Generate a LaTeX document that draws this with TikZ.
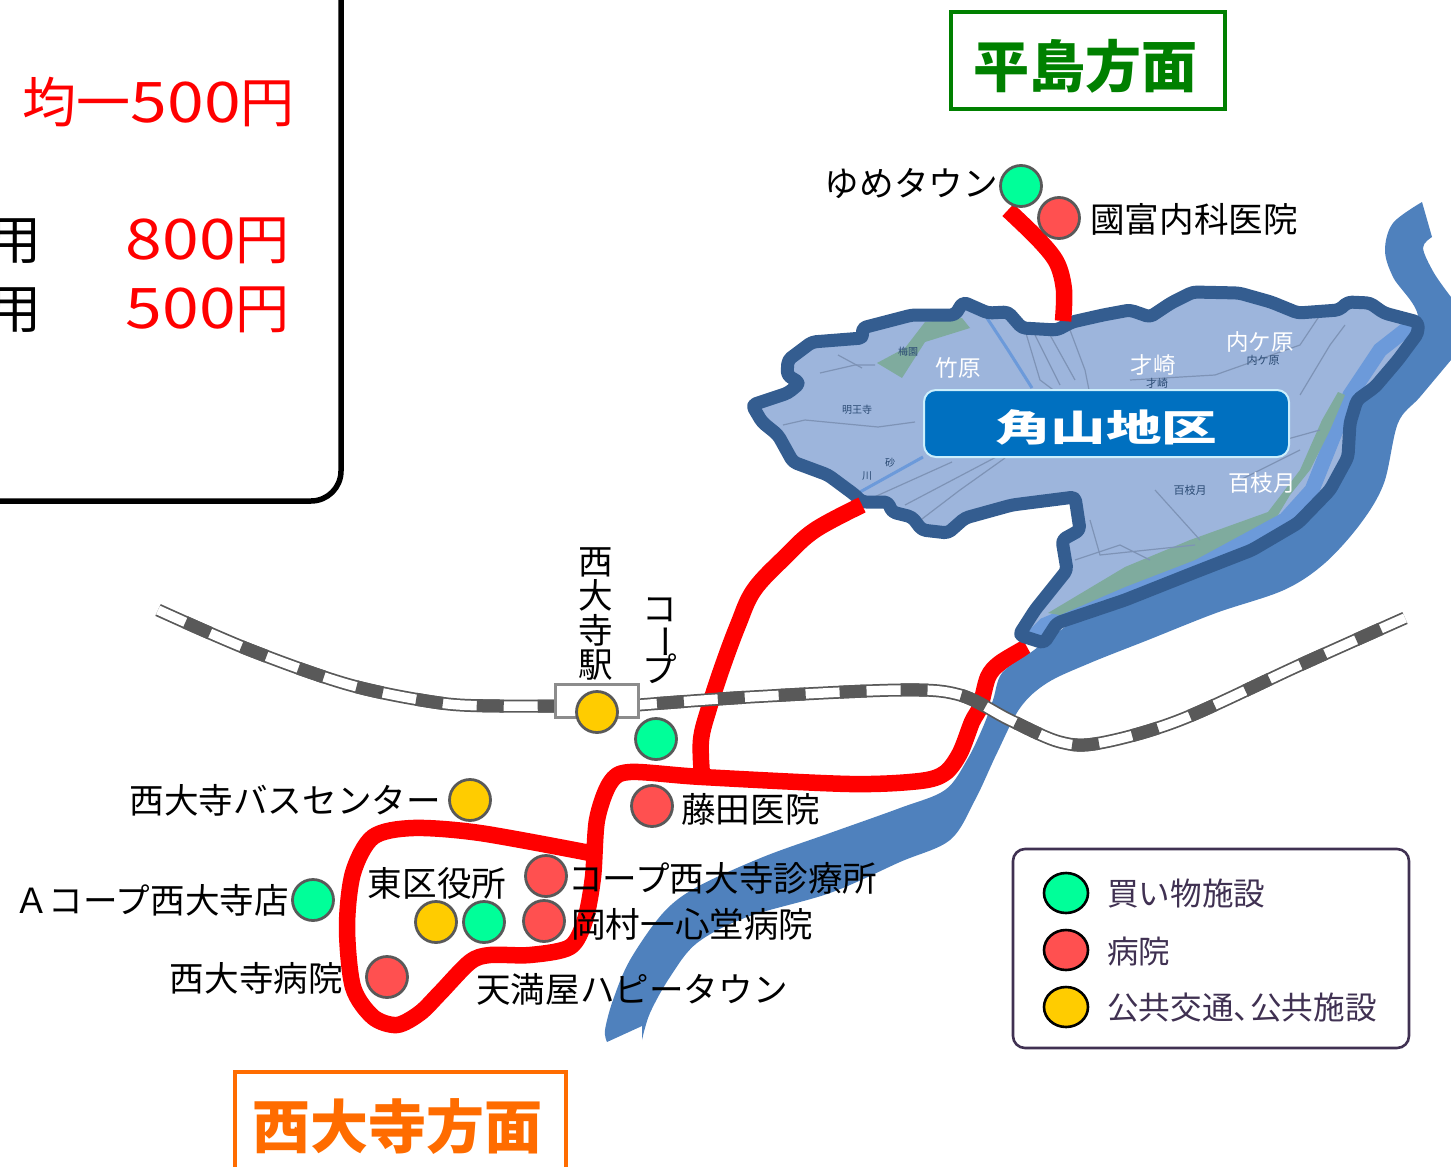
\documentclass[tikz,border=0pt]{standalone}
\usepackage{fontspec}
\usepackage{graphicx}
\setmainfont{Noto Sans CJK JP}
\newfontfamily\widedigits[FakeStretch=1.18]{Noto Sans CJK JP}
\usetikzlibrary{calc,shapes.geometric}
\newcommand{\fsz}[1]{\fontsize{#1}{#1}\selectfont}
\definecolor{river}{HTML}{4F81BD}
\definecolor{mapfill}{HTML}{9DB5DC}
\definecolor{mapedge}{HTML}{345D90}
\definecolor{strip}{HTML}{6C9ADA}
\definecolor{parkgreen}{HTML}{7FAB9E}
\definecolor{road}{HTML}{7E93B6}
\definecolor{dotgreen}{HTML}{00FF99}
\definecolor{dotred}{HTML}{FF5050}
\definecolor{dotyellow}{HTML}{FFCC00}
\definecolor{dotline}{HTML}{595959}
\definecolor{legendtext}{HTML}{403152}
\definecolor{titleblue}{HTML}{0070C0}
\tikzset{
  dot/.style={circle,draw=dotline,line width=2.8pt,minimum size=41pt,inner sep=0pt},
  legdot/.style={ellipse,draw=black,line width=2.6pt,minimum width=44pt,minimum height=40pt,inner sep=0pt},
  lbl/.style={inner sep=0pt,font=\fsz{34.6},text=black},
  legtxt/.style={inner sep=0pt,anchor=west,font=\fsz{31.6},text=legendtext},
  price/.style={inner sep=0pt,text=red,font=\fsz{54}},
  route/.style={draw=red,line width=16.5pt,line join=round},
  roadline/.style={draw=road,line width=1.2pt},
  maplbl/.style={inner sep=0pt,text=white,font=\fsz{22.5}},
  mapsmall/.style={inner sep=0pt,text=mapedge!80!black,font=\fsz{10}},
  railbase/.style={draw=dotline,line width=13pt},
  railwhite/.style={draw=white,line width=9.5pt},
  raildash/.style={draw=dotline,line width=13pt,dash pattern=on 27pt off 34pt},
}
\begin{document}
\begin{tikzpicture}[x=1pt,y=-1pt]
\useasboundingbox (0,0) rectangle (1451,1167);
\clip (0,0) rectangle (1451,1167);
\def\mapoutline{(1072,322) -- (1103,315) -- (1130,310) -- (1150,317) -- (1171,303) -- (1193,292) -- (1239,293) -- (1271,302) -- (1298,313) -- (1339,310) -- (1348,302) -- (1370,303) -- (1384,313) -- (1418,322) -- (1418,333) -- (1398,360) -- (1375,387) -- (1357,400) -- (1350,423) -- (1348,457) -- (1330,490) -- (1298,523) -- (1252,550) -- (1193,573) -- (1125,600) -- (1057,623) -- (1044,643) -- (1019,635) -- (1035,610) -- (1067,570) -- (1062,540) -- (1080,530) -- (1075,497) -- (1012,505) -- (965,518) -- (948,533) -- (922,530) -- (912,517) -- (892,512) -- (888,502) -- (862,502) -- (855,495) -- (828,475) -- (793,462) -- (778,435) -- (762,422) -- (752,405) -- (788,393) -- (800,383) -- (787,375) -- (788,360) -- (812,342) -- (863,338) -- (862,328) -- (912,315) -- (955,315) -- (963,302) -- (988,313) -- (1008,312) -- (1022,328) -- (1057,330) -- cycle}
% fare panel
\draw[black,line width=5.5pt,rounded corners=30pt] (-20,501) -- (341,501) -- (341,-20);
\node[price,anchor=east] (fareflat) at (295,102) {均一{\widedigits\fsz{56}500}円};
\node[price,anchor=east] (fareA) at (290,241) {{\widedigits\fsz{56}800}円};
\node[price,anchor=east] (fareB) at (290,310) {{\widedigits\fsz{56}500}円};
\node[inner sep=0pt,anchor=east,font=\fsz{53}] (useA) at (42,241) {用};
\node[inner sep=0pt,anchor=east,font=\fsz{53}] (useB) at (42,310) {用};
% main route, passes beneath the river edge
\draw[route] plot[smooth,tension=0.5] coordinates {(1027,647) (1000,663) (988,677) (980,707) (972,722) (960,753) (945,773) (920,781) (850,784) (702,777) (630,772) (610,783) (597,820) (593,877) (585,920) (570,947) (530,955) (490,955) (470,962) (440,993) (420,1013) (397,1025) (373,1017) (353,987) (347,927) (353,873) (373,837) (413,828) (480,833) (590,853)};
% river
\fill[river] plot[smooth,tension=0.55] coordinates {(1422,202) (1393,223) (1385,250) (1393,277) (1418,320) (1380,370) (1330,460) (1280,510) (1180,560) (1090,610) (1030,653) (1002,673) (993,700) (983,727) (967,760) (945,790) (900,808) (830,833) (763,857) (697,887) (663,913) (630,960) (613,1000) (605,1030) (607,1042)}
  -- (642,1026) -- plot[smooth,tension=0.55] coordinates {(642,1040) (650,1013) (670,977) (697,943) (747,917) (830,893) (900,862) (950,840) (975,800) (997,753) (1020,708) (1047,683) (1090,663) (1148,640) (1216,613) (1284,590) (1325,563) (1361,523) (1384,483) (1398,423) (1420,397) (1451,360)}
  -- (1460,360) -- (1460,297) -- plot[smooth,tension=0.55] coordinates {(1451,297) (1434,273) (1423,248) (1432,237)} -- cycle;
% district map
\fill[mapfill] \mapoutline;
\begin{scope}
\clip \mapoutline;
\draw[strip,line width=15pt] (1030,640) -- (1045,625) -- (1140,585) -- (1210,555) -- (1285,520) -- (1312,490) -- (1332,440) -- (1350,395) -- (1380,350) -- (1412,325);
\fill[parkgreen] (1048,613) -- (1125,567) -- (1190,540) -- (1268,512) -- (1300,470) -- (1322,420) -- (1338,392) -- (1345,395) -- (1330,430) -- (1310,470) -- (1290,495) -- (1278,515) -- (1195,560) -- (1125,587) -- (1060,615) -- cycle;
\fill[parkgreen] (925,322) -- (962,318) -- (970,328) -- (925,342) -- (902,378) -- (877,363) -- (905,348) -- cycle;
\draw[strip,line width=3pt] (985,315) -- (1008,350) -- (1032,388);
\draw[strip,line width=3pt] (860,492) -- (923,457);
\draw[roadline] (1025,330) -- (1040,380) -- (1060,395);
\draw[roadline] (1035,335) -- (1060,385);
\draw[roadline] (1070,330) -- (1085,370) -- (1090,395);
\draw[roadline] (1050,335) -- (1075,380);
\draw[roadline] (918,522) -- (960,490) -- (1005,458);
\draw[roadline] (872,498) -- (952,462);
\draw[roadline] (905,505) -- (1000,455);
\draw[roadline] (783,425) -- (805,420) -- (878,427) -- (915,422);
\draw[roadline] (820,373) -- (855,365) -- (875,365);
\draw[roadline] (838,355) -- (862,368);
\draw[roadline] (1130,380) -- (1215,375) -- (1300,345) -- (1320,315);
\draw[roadline] (1300,395) -- (1330,345) -- (1345,325);
\draw[roadline] (1230,455) -- (1320,430);
\draw[roadline] (1155,490) -- (1200,540);
\draw[roadline] (1090,520) -- (1100,555) -- (1195,545);
\draw[roadline] (1075,560) -- (1120,545) -- (1150,560);
\draw[roadline] (1240,480) -- (1300,450);
\end{scope}
\draw[mapedge,line width=13pt,line join=round,rounded corners=4pt] \mapoutline;
% routes that end on the map
\draw[route] plot[smooth,tension=0.6] coordinates {(862,505) (815,530) (785,557) (754,590) (738,625) (722,668) (709,708) (701,740) (702,775)};
\draw[route] plot[smooth,tension=0.55] coordinates {(1008,210) (1039,240) (1057,263) (1064,290) (1063,321)};
% railway
\draw[railbase] plot[smooth,tension=0.55] coordinates {(158,610) (250,650) (350,685) (440,703) (500,706) (556,706)};
\draw[railwhite] plot[smooth,tension=0.55] coordinates {(158,610) (250,650) (350,685) (440,703) (500,706) (556,706)};
\draw[raildash,dash phase=31pt] plot[smooth,tension=0.55] coordinates {(158,610) (250,650) (350,685) (440,703) (500,706) (556,706)};
\draw[railbase] plot[smooth,tension=0.55] coordinates {(638,705) (750,697) (900,690) (960,695) (1010,720) (1060,742) (1100,743) (1180,720) (1300,665) (1405,618)};
\draw[railwhite] plot[smooth,tension=0.55] coordinates {(638,705) (750,697) (900,690) (960,695) (1010,720) (1060,742) (1100,743) (1180,720) (1300,665) (1405,618)};
\draw[raildash,dash phase=42pt] plot[smooth,tension=0.55] coordinates {(638,705) (750,697) (900,690) (960,695) (1010,720) (1060,742) (1100,743) (1180,720) (1300,665) (1405,618)};
\node[draw=gray!90,fill=white,line width=2.5pt,minimum width=83pt,minimum height=33pt,inner sep=0pt] (station) at (597,701) {};
% map labels
\node[mapsmall] (smallA) at (908,352) {梅園};
\node[mapsmall] (smallB) at (857,410) {明王寺};
\node[mapsmall] (smallC) at (890,463) {砂};
\node[mapsmall] (smallD) at (867,476) {川};
\node[mapsmall,font=\fsz{11}] (smallE) at (1190,490) {百枝月};
\node[mapsmall,font=\fsz{11}] (smallF) at (1157,383) {才崎};
\node[mapsmall,font=\fsz{11}] (smallG) at (1263,360) {内ケ原};
\node[maplbl] (take) at (958,368) {竹原};
\node[maplbl] (sai) at (1153,365) {才崎};
\node[maplbl] (uchi) at (1260,342) {内ケ原};
\node[maplbl] (momo) at (1262,483) {百枝月};
\node[draw=white!80!cyan,fill=titleblue,line width=2pt,rounded corners=12pt,minimum width=365pt,minimum height=67pt,inner sep=0pt] (title) at (1106.5,423.5) {};
\node[inner sep=0pt,text=white] (titletext) at (1106,427) {\scalebox{1.5}[1]{\fsz{37}\bfseries 角山地区}};
% direction boxes
\draw[draw=green!50!black,line width=3.5pt] (951,12) rectangle (1225,109);
\node[inner sep=0pt,text=green!50!black,font=\fsz{56}\bfseries] (hirashima) at (1085,66) {平島方面};
\draw[draw=orange!85!red,line width=3.5pt] (235,1190) -- (235,1072) -- (566,1072) -- (566,1190);
\node[inner sep=0pt,text=orange!85!red,font=\fsz{58}\bfseries] (saidaiji) at (397,1127) {西大寺方面};
% stops
\node[dot,fill=dotgreen] (d1) at (1021,186) {};
\node[dot,fill=dotred] (d2) at (1059,218) {};
\node[dot,fill=dotyellow] (d3) at (597,712) {};
\node[dot,fill=dotgreen] (d4) at (656,739) {};
\node[dot,fill=dotred] (d5) at (652,806) {};
\node[dot,fill=dotyellow] (d6) at (470,800) {};
\node[dot,fill=dotgreen] (d7) at (313,900) {};
\node[dot,fill=dotyellow] (d8) at (436,922) {};
\node[dot,fill=dotgreen] (d9) at (484,922) {};
\node[dot,fill=dotred] (d10) at (546,876) {};
\node[dot,fill=dotred] (d11) at (544,921) {};
\node[dot,fill=dotred] (d12) at (387,977) {};
% stop labels
\node[lbl,anchor=east] (t1) at (998,184) {ゆめタウン};
\node[lbl,anchor=west] (t2) at (1090,219) {國富内科医院};
\node[lbl,anchor=east] (t6) at (441,800) {西大寺バスセンター};
\node[lbl,anchor=east] (t7) at (289,900) {Ａコープ西大寺店};
\node[lbl,anchor=west] (t5) at (681,809) {藤田医院};
\node[lbl] (t8) at (437,883) {東区役所};
\node[lbl,anchor=west] (t10) at (568,878) {コープ西大寺診療所};
\node[lbl,anchor=west] (t11) at (571,924) {岡村一心堂病院};
\node[lbl,anchor=east] (t12) at (343,978) {西大寺病院};
\node[lbl,anchor=west] (t13) at (476,989) {天満屋ハピータウン};
\node[lbl,align=center] (t3) at (596,614) {西\\大\\寺\\駅};
\node[lbl] (t4a) at (660,610) {コ};
\node[lbl] (t4b) at (660,642) {\rotatebox{-90}{ー}};
\node[lbl] (t4c) at (660,669) {プ};
% legend
\draw[draw=legendtext,line width=2.6pt,rounded corners=12pt,fill=white] (1013,849) rectangle (1409,1048);
\node[legdot,fill=dotgreen] (l1) at (1066,893) {};
\node[legdot,fill=dotred] (l2) at (1066,950) {};
\node[legdot,fill=dotyellow] (l3) at (1066,1007) {};
\node[legtxt] (lt1) at (1107,894) {買い物施設};
\node[legtxt] (lt2) at (1107,951) {病院};
\node[legtxt] (lt3) at (1107,1008) {公共交通、\kern-15pt 公共施設};
\end{tikzpicture}
\end{document}
